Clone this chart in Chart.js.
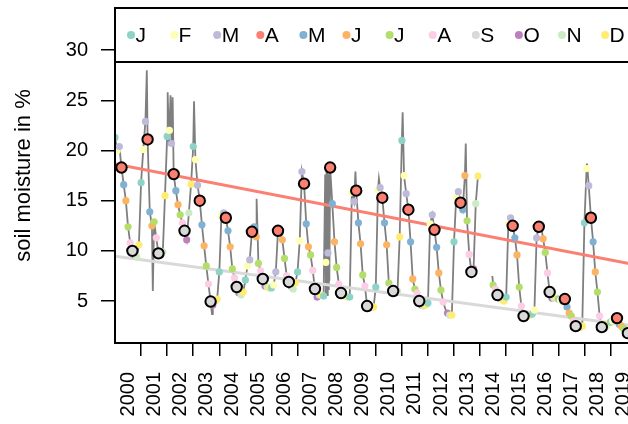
<!DOCTYPE html>
<html>
<head>
<meta charset="utf-8">
<script src="https://cdn.jsdelivr.net/npm/chart.js@4.4.1/dist/chart.umd.min.js"></script>
<style>
  html, body { margin: 0; padding: 0; background: #fff; overflow: hidden; }
</style>
</head>
<body>
<canvas id="chart" width="662" height="424"></canvas>
<script>
const monthLabels = ['J', 'F', 'M', 'A', 'M', 'J', 'J', 'A', 'S', 'O', 'N', 'D']
const monthColors = ['#8DD3C7', '#FFFFB3', '#BEBADA', '#FB8072', '#80B1D3', '#FDB462',
                     '#B3DE69', '#FCCDE5', '#D9D9D9', '#BC80BD', '#CCEBC5', '#FFED6F']
const ringedMonths = [3, 8] // April and September

// monthly soil moisture (%), Jan..Dec
const sm2000 = [21.3, 20.0, 20.4, 18.3, 16.6, 15.0, 12.4, 10.8, 10.0, 9.6, 9.4, 10.6]
const sm2001 = [16.8, 20.1, 22.9, 21.1, 13.9, 12.5, 12.9, 11.3, 9.75, 9.6, 9.9, 15.5]
const sm2002 = [21.4, 22.0, 20.7, 17.65, 16.0, 14.6, 13.6, 12.8, 12.0, 11.1, 13.8, 16.65]
const sm2003 = [20.4, 19.1, 16.55, 15.0, 12.6, 10.5, 8.5, 6.7, 4.95, 4.6, 5.0, 5.2]
const sm2004 = [7.9, 13.6, 13.8, 13.3, 12.0, 10.4, 8.2, 7.3, 6.4, 5.8, 5.6, 5.9]
const sm2005 = [7.1, 8.5, 9.1, 11.9, 12.4, 11.4, 8.75, 8.0, 7.2, 6.5, 6.4, 6.3]
const sm2006 = [6.3, 6.6, 7.9, 12.0, 11.8, 11.1, 9.25, 7.5, 6.9, 6.5, 6.2, 6.8]
const sm2007 = [7.9, 11.0, 17.9, 16.7, 12.7, 10.4, 9.6, 8.05, 6.2, 5.4, 5.6, 5.6]
const sm2008 = [5.5, 8.85, 9.8, 18.3, 14.7, 10.9, 8.35, 6.7, 5.8, 5.6, 5.5, 5.4]
const sm2009 = [5.4, 15.8, 14.9, 16.0, 12.8, 10.7, 7.6, 6.5, 4.5, 4.3, 4.5, 4.4]
const sm2010 = [6.4, 16.05, 16.3, 15.3, 12.8, 10.6, 6.8, 6.3, 6.0, 5.8, 6.0, 11.4]
const sm2011 = [21.0, 17.5, 15.7, 14.1, 10.9, 7.2, 6.2, 5.8, 5.0, 4.6, 4.5, 4.6]
const sm2012 = [4.8, 12.7, 13.6, 12.1, 10.35, 7.8, 6.1, 4.9, null, 3.8, 3.6, 3.6]
const sm2013 = [10.9, 15.3, 15.9, 14.8, 14.1, 17.5, 13.0, 9.65, 7.9, 8.2, 14.7, 17.45]
const sm2014 = [null, null, null, null, null, null, 6.6, 6.2, 5.6, 5.3, 5.2, 5.0]
const sm2015 = [5.4, 12.7, 13.3, 12.5, 11.3, 9.6, 6.4, 4.5, 3.5, 3.4, 3.5, 3.6]
const sm2016 = [3.7, 4.1, 11.3, 12.4, 12.6, 11.2, 9.85, 7.8, 5.9, 5.3, 5.3, 5.3]
const sm2017 = [5.2, 5.1, 5.0, 5.2, 4.4, 3.8, 3.5, 3.0, 2.5, 2.4, 2.4, 2.5]
const sm2018 = [12.8, 18.2, 16.5, 13.3, 10.9, 7.9, 5.9, 3.5, 2.4, 2.3, 2.5, 2.8]
const sm2019 = [2.9, 3.0, 3.1, 3.3, 2.7, 2.5, 2.3, 2.0, 1.8, 1.7, 1.8, 1.9]

const years = [2000, 2001, 2002, 2003, 2004, 2005, 2006, 2007, 2008, 2009,
               2010, 2011, 2012, 2013, 2014, 2015, 2016, 2017, 2018, 2019]
const soil = [sm2000, sm2001, sm2002, sm2003, sm2004, sm2005, sm2006, sm2007, sm2008, sm2009,
              sm2010, sm2011, sm2012, sm2013, sm2014, sm2015, sm2016, sm2017, sm2018, sm2019]

// raw series values between the monthly points [decimal year, %]
const spikes = [
  [2001.22, 28.0], [2001.45, 6.0],
  [2002.02, 25.8], [2002.07, 20.5], [2002.13, 25.5], [2002.18, 21.0], [2002.21, 25.3],
  [2003.03, 24.9], [2003.72, 3.7],
  [2005.43, 15.2],
  [2008.06, 17.6], [2008.09, 5.8], [2008.11, 17.9], [2008.13, 5.6], [2008.15, 18.0],
  [2008.18, 6.2], [2008.20, 17.6], [2008.22, 7.0],
  [2009.22, 17.9], [2010.12, 17.2], [2011.03, 23.8], [2012.67, 4.2], [2013.45, 20.7],
  [2014.47, 7.5], [2018.10, 18.7]
]
// no raw data here (line is broken)
const dataGaps = [2014.2]

// linear trends of April and September values
const trendYears = [2000, 2020.4]
const trendApril = [18.65, 8.39]
const trendSeptember = [9.47, 2.35]

const yTicks = [5, 10, 15, 20, 25, 30]

const monthly = []
years.forEach((yr, i) => {
  soil[i].forEach((v, m) => {
    if (v !== null) monthly.push({ x: yr + m / 12, y: v, m: m })
  })
})
const rawLine = monthly.map(p => ({ x: p.x, y: p.y }))
  .concat(spikes.map(s => ({ x: s[0], y: s[1] })))
  .concat(dataGaps.map(g => ({ x: g, y: null })))
  .sort((a, b) => a.x - b.x)
const plainDots = monthly.filter(p => !ringedMonths.includes(p.m))
const ringDots = monthly.filter(p => ringedMonths.includes(p.m))

const font = { family: "'Liberation Sans', Arial, sans-serif", size: 20 }

// scales reserve room for half a label beyond their ends; this plot does not
function noEndPadding(s) {
  s.paddingTop = 0
  s.paddingBottom = 0
  s.paddingLeft = 0
  s.paddingRight = 0
}

const frame = {
  id: 'frame',
  afterDraw(chart) {
    const { ctx, chartArea: a } = chart
    ctx.save()
    ctx.lineWidth = 2
    ctx.strokeStyle = '#000'
    ctx.strokeRect(a.left, a.top, a.right - a.left, a.bottom - a.top)
    // legend inside the top of the plot
    const boxBottom = a.top + 54
    ctx.fillStyle = '#fff'
    ctx.fillRect(a.left, a.top, a.right - a.left, boxBottom - a.top)
    ctx.strokeRect(a.left, a.top, a.right - a.left, boxBottom - a.top)
    ctx.font = "21px 'Liberation Sans', Arial, sans-serif"
    ctx.textBaseline = 'middle'
    monthLabels.forEach((lab, i) => {
      const x = a.left + 16 + i * 43.1
      const y = a.top + 27
      ctx.beginPath()
      ctx.arc(x, y, 4, 0, Math.PI * 2)
      ctx.fillStyle = monthColors[i]
      ctx.fill()
      ctx.fillStyle = '#000'
      ctx.fillText(lab, x + 4.5, y + 1)
    })
    ctx.restore()
  }
}

new Chart(document.getElementById('chart'), {
  type: 'scatter',
  data: {
    datasets: [
      {
        data: ringDots,
        pointRadius: 5.2,
        pointBorderWidth: 2,
        pointBorderColor: '#000',
        pointBackgroundColor: ringDots.map(p => monthColors[p.m]),
        order: 0
      },
      {
        data: plainDots,
        pointRadius: 3.6,
        pointBorderWidth: 0,
        pointBackgroundColor: plainDots.map(p => monthColors[p.m]),
        order: 1
      },
      {
        type: 'line',
        data: trendYears.map((x, i) => ({ x: x, y: trendApril[i] })),
        borderColor: '#FB8072',
        borderWidth: 3,
        pointRadius: 0,
        order: 2
      },
      {
        type: 'line',
        data: trendYears.map((x, i) => ({ x: x, y: trendSeptember[i] })),
        borderColor: '#D9D9D9',
        borderWidth: 3,
        pointRadius: 0,
        order: 3
      },
      {
        type: 'line',
        data: rawLine,
        borderColor: '#7F7F7F',
        borderWidth: 1.8,
        pointRadius: 0,
        spanGaps: false,
        order: 4
      }
    ]
  },
  options: {
    responsive: false,
    animation: false,
    devicePixelRatio: 1,
    layout: { padding: { top: 8, right: 15, left: 0, bottom: 0 } },
    plugins: { legend: { display: false }, tooltip: { enabled: false } },
    scales: {
      x: {
        type: 'linear',
        min: 2000,
        max: 2020.4,
        afterBuildTicks: s => { s.ticks = years.map(y => ({ value: y + 1 })) },
        afterFit: s => { s.height = 81; noEndPadding(s) },
        border: { display: false },
        grid: { drawOnChartArea: false, drawTicks: true, tickLength: 13, color: '#000', lineWidth: 1.5 },
        ticks: {
          autoSkip: false,
          maxRotation: 90,
          minRotation: 90,
          labelOffset: -13,
          padding: 16,
          color: '#000',
          font: font,
          callback: v => String(v - 1)
        }
      },
      y: {
        min: 0.82,
        max: 34.2,
        afterBuildTicks: s => { s.ticks = yTicks.map(v => ({ value: v })) },
        afterFit: s => { s.width = 115; noEndPadding(s) },
        border: { display: false },
        grid: { drawOnChartArea: false, drawTicks: true, tickLength: 14, color: '#000', lineWidth: 1.5 },
        ticks: { padding: 13, color: '#000', font: font },
        title: {
          display: true,
          text: 'soil moisture in %',
          color: '#000',
          font: { family: font.family, size: 22 },
          padding: { top: 11, bottom: 0 }
        }
      }
    }
  },
  plugins: [frame]
})
</script>
</body>
</html>
